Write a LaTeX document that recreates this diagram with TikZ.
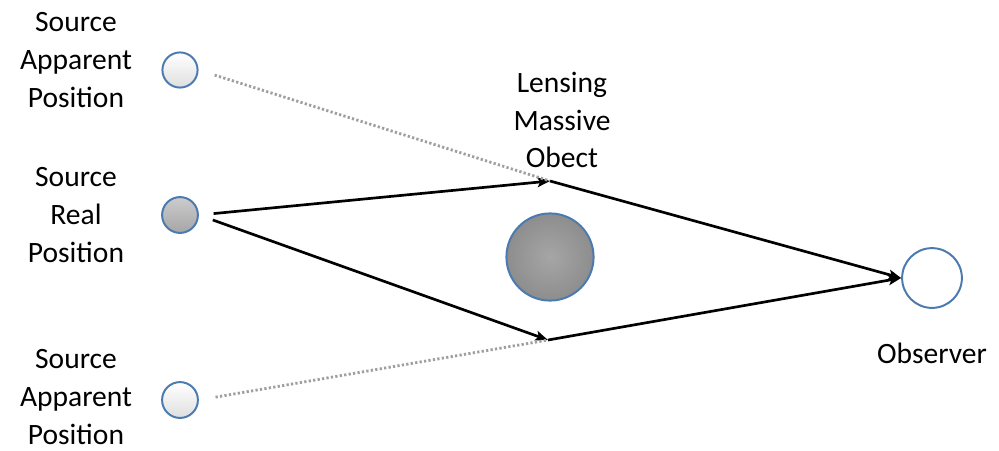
\documentclass[tikz,border=0pt]{standalone}
\usepackage{fontspec}
\setmainfont{Carlito}
\usetikzlibrary{arrows.meta,positioning}
\definecolor{rim}{HTML}{4A7AB0}

\tikzset{
  body/.style = {circle, draw=rim, line width=1.4pt, inner sep=0pt},
  ray/.style = {line width=1.9pt, -{Stealth[length=9pt,width=7pt,inset=2pt]}},
  ghost/.style = {line width=2pt, gray!75, dash pattern=on 1.6pt off 1.6pt},
  lbl/.style = {align=center, font=\fontsize{21}{26.9}\selectfont}
}

\begin{document}
\begin{tikzpicture}[x=0.025cm, y=-0.025cm]
  \useasboundingbox (0,0) rectangle (999,450);

  % sources
  \node[body, minimum size=25pt, top color=white, bottom color=gray!25] (srcA) at (180,70) {};
  \node[body, minimum size=25.5pt, top color=gray!40, bottom color=gray!70] (src) at (180,215) {};
  \node[body, minimum size=25.5pt, top color=white, bottom color=gray!25] (srcB) at (180,400) {};

  % lens and observer
  \node[body, minimum size=62pt, inner color=gray!70, outer color=gray!95!black!85] (lens) at (550,257) {};
  \node[body, minimum size=42.5pt, fill=white] (obs) at (932,278) {};

  \node[lbl] (tA) at (76,60) {Source\\Apparent\\Position};
  \node[lbl] (tR) at (76,215) {Source\\Real\\Position};
  \node[lbl] (tB) at (76,397) {Source\\Apparent\\Position};
  \node[lbl] (tL) at (562,120) {Lensing\\Massive\\Obect};
  \node[lbl] (tO) at (932,353) {Observer};

  \coordinate (up) at (550,181);
  \coordinate (dn) at (548,340);

  % light paths
  \draw[ray, shorten <=10.5pt] (src.east) -- (up);
  \draw[ray, shorten <=10.5pt] (src.east) -- (dn);
  \draw[ray] (up) -- (obs.west);
  \draw[ray] (dn) -- (obs.west);

  % apparent directions
  \draw[ghost, shorten <=12pt] (srcA.east) -- (up);
  \draw[ghost, shorten <=12pt] (srcB.east) -- (dn);
\end{tikzpicture}
\end{document}
